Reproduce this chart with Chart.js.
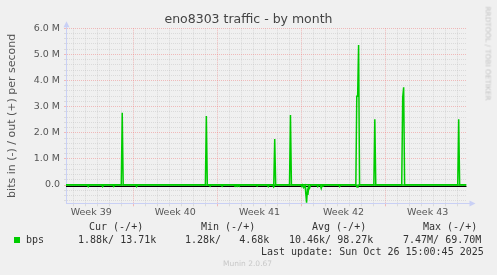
<!DOCTYPE html>
<html>
<head>
<meta charset="utf-8">
<script src="https://cdn.jsdelivr.net/npm/chart.js@4/dist/chart.umd.min.js"></script>
<style>
  body{ margin:0; background:#f0f0f0; }
  #wrap{ position:relative; width:497px; height:275px; overflow:hidden; font-family:"DejaVu Sans", sans-serif; }
  #chart{ position:absolute; left:0; top:0; }
  .t{ position:absolute; white-space:pre; font-family:"DejaVu Sans Mono", monospace; font-size:10px; line-height:12px; color:#333; }
  .box{ position:absolute; left:14px; top:237px; width:6px; height:6px; background:#00cc00; }
  .vendor{ position:absolute; left:440px; top:50px; width:96px; transform-origin:50% 50%; transform:rotate(90deg);
           font-size:7.3px; line-height:9px; color:#c4c4c4; white-space:nowrap; }
  .munin{ position:absolute; left:223px; top:259px; font-size:7.5px; line-height:9px; color:#c8c8c8; }
</style>
</head>
<body>
<div id="wrap">
  <canvas id="chart" width="497" height="275"></canvas>

  <div class="vendor">RRDTOOL / TOBI OETIKER</div>

  <div class="t" style="left:89px;top:221px">Cur (-/+)</div>
  <div class="t" style="left:201px;top:221px">Min (-/+)</div>
  <div class="t" style="left:312px;top:221px">Avg (-/+)</div>
  <div class="t" style="left:423px;top:221px">Max (-/+)</div>

  <div class="box"></div>
  <div class="t" style="left:26px;top:234px">bps</div>
  <div class="t" style="left:78px;top:234px">1.88k/ 13.71k</div>
  <div class="t" style="left:185px;top:234px">1.28k/   4.68k</div>
  <div class="t" style="left:289px;top:234px">10.46k/ 98.27k</div>
  <div class="t" style="left:403px;top:234px">7.47M/ 69.70M</div>

  <div class="t" style="left:261px;top:246px">Last update: Sun Oct 26 15:00:45 2025</div>
  <div class="munin">Munin 2.0.67</div>
</div>

<script>
// ---------- Data (read off the munin "by month" graph) ----------
// x = days since Mon 22 Sep 2025 00:00, y = bits per second
const xMin = 1.4, xMax = 34.73;

const weekLabels  = ['Week 39','Week 40','Week 41','Week 42','Week 43'];
const weekCenters = [3.5, 10.5, 17.5, 24.5, 31.5];

const yTickValues = [0, 1e6, 2e6, 3e6, 4e6, 5e6, 6e6];
const yTickLabels = ['0.0','1.0 M','2.0 M','3.0 M','4.0 M','5.0 M','6.0 M'];

// out (+)
const outDays = [1.4, 6.0, 6.08, 6.16, 13.0, 13.08, 13.16, 18.69, 18.77, 18.85,
                 20.0, 20.08, 20.16, 25.52, 25.6, 25.67, 25.75, 25.83,
                 27.02, 27.1, 27.18, 29.34, 29.42, 29.5, 29.58, 34.0, 34.08, 34.16, 34.73];
const outBits = [12e3, 11e3, 2.77e6, 13e3, 10e3, 2.64e6, 12e3, 9e3, 1.76e6, 10e3,
                 11e3, 2.68e6, 12e3, 14e3, 3.4e6, 3.4e6, 5.36e6, 15e3,
                 12e3, 2.52e6, 13e3, 12e3, 3.35e6, 3.74e6, 14e3, 12e3, 2.52e6, 13e3, 13.7e3];

// in (-), drawn below zero
const inDays = [1.4, 3.17, 3.25, 3.33, 4.37, 4.45, 4.53, 5.29, 5.37, 5.45, 7.2, 7.28, 7.36,
                13.31, 13.39, 13.47, 14.31, 14.39, 14.47,
                15.39, 15.47, 15.55, 15.64, 15.73, 15.81, 15.89,
                17.23, 17.31, 17.39, 18.15, 18.23, 18.31, 18.6, 18.68, 18.76,
                20.95, 21.03, 21.1, 21.18, 21.3, 21.42, 21.48, 21.53, 21.6, 21.67, 21.75,
                22.27, 22.35, 22.43, 22.56, 22.64, 22.72, 22.81, 22.89,
                24.09, 24.17, 24.25, 25.54, 25.62, 25.7, 34.73];
const inBits = [-2e3, -2e3, -60e3, -2e3, -2e3, -60e3, -2e3, -2e3, -55e3, -2e3, -2e3, -60e3, -2e3,
                -2e3, -50e3, -2e3, -2e3, -50e3, -2e3,
                -2e3, -50e3, -5e3, -50e3, -5e3, -50e3, -2e3,
                -2e3, -40e3, -2e3, -2e3, -60e3, -2e3, -2e3, -70e3, -2e3,
                -2e3, -60e3, -3e3, -100e3, -20e3, -680e3, -250e3, -380e3, -60e3, -120e3, -2e3,
                -2e3, -60e3, -2e3, -2e3, -130e3, -10e3, -40e3, -2e3,
                -2e3, -60e3, -2e3, -2e3, -80e3, -2e3, -1.9e3];

// ---------- Styling ----------
const GREEN = '#00cc00';
const AXIS  = '#c9d0f5';
const MGRID = 'rgba(240,110,110,0.42)';
const GRID  = 'rgba(150,150,150,0.24)';
const TXT   = '#555';

// grid positions: one line per day, one per 0.2 M
const dayTicks = [];
for (let d = Math.ceil(xMin); d <= Math.floor(xMax); d++) dayTicks.push(d);
const yGrid = [];
for (let k = -3; k <= 30; k++) yGrid.push(k * 2e5);

// zero rule + axis arrows
const muninDecor = {
  id: 'muninDecor',
  beforeDatasetsDraw(chart){
    const {ctx, chartArea:{left, right}, scales:{y}} = chart;
    const y0 = Math.round(y.getPixelForValue(0)) + 1.5;
    ctx.save();
    ctx.strokeStyle = '#000'; ctx.lineWidth = 1;
    ctx.beginPath(); ctx.moveTo(left, y0); ctx.lineTo(right, y0); ctx.stroke();
    ctx.restore();
  },
  afterDraw(chart){
    const {ctx, chartArea:{left, right, top, bottom}} = chart;
    const lx = Math.round(left) + 0.5, by = Math.round(bottom) + 0.5;
    ctx.save();
    ctx.strokeStyle = AXIS; ctx.fillStyle = AXIS; ctx.lineWidth = 1;
    ctx.beginPath(); ctx.moveTo(lx, top); ctx.lineTo(lx, top - 3); ctx.stroke();
    ctx.beginPath(); ctx.moveTo(right, by); ctx.lineTo(right + 4, by); ctx.stroke();
    ctx.beginPath(); ctx.moveTo(lx - 3, top - 1); ctx.lineTo(lx + 3, top - 1); ctx.lineTo(lx, top - 7); ctx.closePath(); ctx.fill();
    ctx.beginPath(); ctx.moveTo(right + 3, by - 3); ctx.lineTo(right + 3, by + 3); ctx.lineTo(right + 9, by); ctx.closePath(); ctx.fill();
    ctx.restore();
  }
};

const toPoints = (xs, ys) => xs.map((x, i) => ({x, y: ys[i]}));

new Chart(document.getElementById('chart'), {
  type: 'line',
  data: {
    datasets: [
      { label: 'out', data: toPoints(outDays, outBits), borderColor: GREEN, borderWidth: 1.5,
        pointRadius: 0, tension: 0, fill: false },
      { label: 'in', data: toPoints(inDays, inBits), borderColor: GREEN, borderWidth: 1.5,
        pointRadius: 0, tension: 0, fill: false }
    ]
  },
  options: {
    responsive: false,
    animation: false,
    events: [],
    layout: { padding: { left: 0, right: 0, top: 0, bottom: 54.7 } },
    plugins: {
      legend: { display: false },
      tooltip: { enabled: false },
      title: {
        display: true,
        text: 'eno8303 traffic - by month',
        color: '#444',
        font: { family: 'DejaVu Sans', size: 12.5, weight: 'normal', lineHeight: 1.2 },
        padding: { top: 12, bottom: 1.3 }
      }
    },
    scales: {
      x: {
        type: 'linear', position: 'bottom', weight: 0,
        min: xMin, max: xMax,
        afterBuildTicks(s){ s.ticks = dayTicks.map(v => ({value: v})); },
        afterFit(s){ s.height = 3; },
        ticks: { display: false, autoSkip: false },
        grid: {
          color: c => (c.tick && c.tick.value % 7 === 0) ? MGRID : GRID,
          tickLength: 3, drawTicks: true
        },
        border: { display: true, color: AXIS, width: 1, dash: [1, 1] }
      },
      xl: {
        type: 'linear', position: 'bottom', weight: 1,
        min: xMin, max: xMax,
        afterBuildTicks(s){ s.ticks = weekCenters.map(v => ({value: v})); },
        afterFit(s){ s.height = 14; },
        ticks: {
          autoSkip: false, maxRotation: 0, padding: 1, color: TXT,
          font: { family: 'DejaVu Sans', size: 9.5 },
          callback: (v, i) => weekLabels[i]
        },
        grid: { display: false, drawTicks: false },
        border: { display: false }
      },
      y: {
        type: 'linear', min: -7e5, max: 6e6,
        afterBuildTicks(s){ s.ticks = yGrid.map(v => ({value: v})); },
        afterFit(s){ s.width = 66; },
        ticks: {
          autoSkip: false, padding: 4, color: TXT,
          font: { family: 'DejaVu Sans', size: 9.5 },
          callback: v => { const i = yTickValues.indexOf(v); return i >= 0 ? yTickLabels[i] : ''; }
        },
        grid: {
          color: c => (c.tick && yTickValues.includes(c.tick.value)) ? MGRID : GRID,
          tickLength: 2
        },
        border: { display: true, color: AXIS, width: 1, dash: [1, 1] },
        title: {
          display: true,
          text: 'bits in (-) / out (+) per second',
          color: TXT,
          font: { family: 'DejaVu Sans', size: 11 },
          padding: { top: 6, bottom: 0 }
        }
      },
      // empty right-hand strip, keeps the plot at the munin width
      yr: {
        type: 'linear', position: 'right', min: -7e5, max: 6e6,
        afterFit(s){ s.width = 30.5; },
        ticks: { display: false },
        grid: { display: false, drawTicks: false },
        border: { display: false }
      }
    }
  },
  plugins: [muninDecor]
});
</script>
</body>
</html>
